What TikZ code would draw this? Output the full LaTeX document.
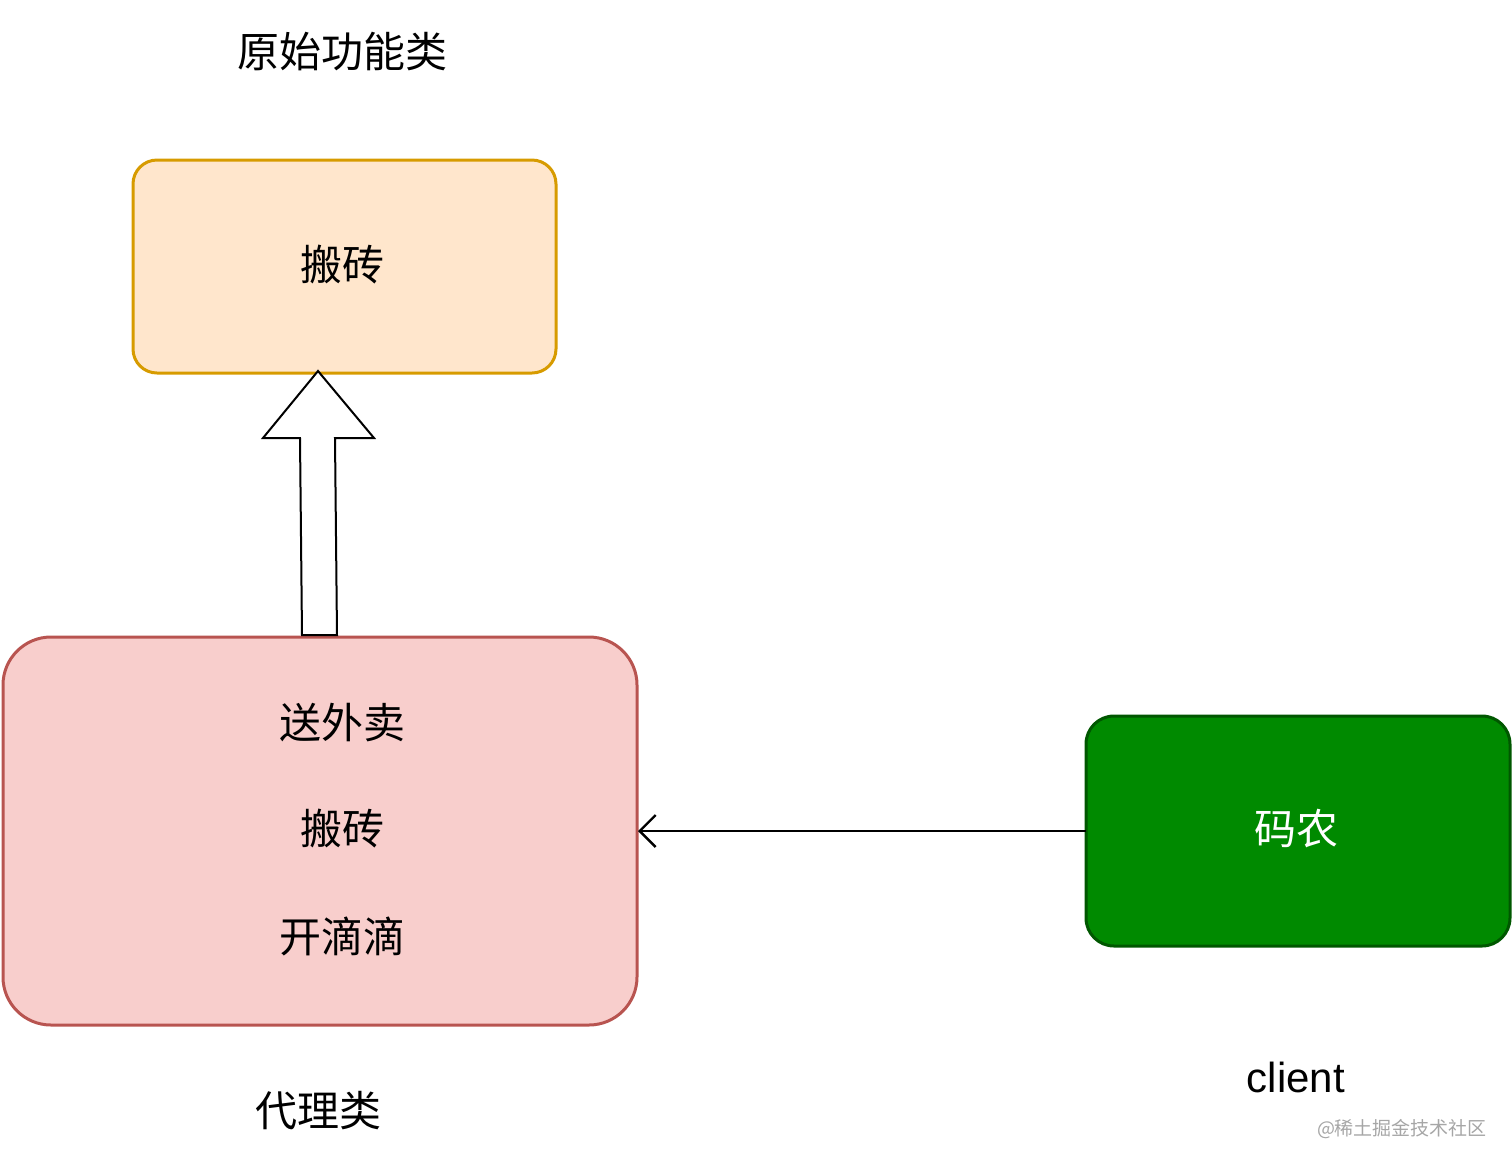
\documentclass[tikz,border=0pt]{standalone}
\usepackage{fontspec}
\setmainfont{Noto Sans CJK SC}
\usetikzlibrary{arrows.meta}
\definecolor{ofill}{HTML}{FFE6CC}\definecolor{odraw}{HTML}{D79B00}
\definecolor{rfill}{HTML}{F8CECC}\definecolor{rdraw}{HTML}{B85450}
\definecolor{gfill}{HTML}{008A00}\definecolor{gdraw}{HTML}{005700}
\tikzset{lbl/.style={font=\fontsize{21}{25}\selectfont},
 box/.style={line width=1.5pt}}
\begin{document}
\begin{tikzpicture}[x=0.5pt,y=-0.5pt]
\useasboundingbox (0,0) rectangle (1512,1169);
\draw[box,fill=ofill,draw=odraw,rounded corners=12pt] (133,160) rectangle (556,373);
\draw[box,fill=rfill,draw=rdraw,rounded corners=24pt] (3,637) rectangle (637,1025);
\draw[box,fill=gfill,draw=gdraw,rounded corners=14pt] (1086,716) rectangle (1510,946);
\coordinate (pe) at (638,831);
\coordinate (ge) at (1086,831);
\draw[line width=1pt,fill=white,line join=miter] (302,635) -- (300,438) -- (263,438) -- (318,371) -- (374,438) -- (335,438) -- (337,635) -- cycle;
\draw[line width=1.2pt,-{Straight Barb[length=8pt,width=16pt,line width=1.2pt]}] (ge) -- (pe);
\node[lbl] (t1) at (342,52) {原始功能类};
\node[lbl] (t2) at (342,265) {搬砖};
\node[lbl] (t3) at (342,723) {送外卖};
\node[lbl] (t4) at (342,829) {搬砖};
\node[lbl] (t5) at (342,936) {开滴滴};
\node[lbl,text=white] (t6) at (1296,829) {码农};
\node[font=\fontspec{Liberation Sans}\fontsize{21}{25}\selectfont] (t7) at (1296,1077) {client};
\node[lbl] (t8) at (318,1111) {代理类};
\node[font=\fontsize{9.5}{11}\selectfont,text=gray!70] (wm) at (1402,1129) {@稀土掘金技术社区};
\end{tikzpicture}
\end{document}
